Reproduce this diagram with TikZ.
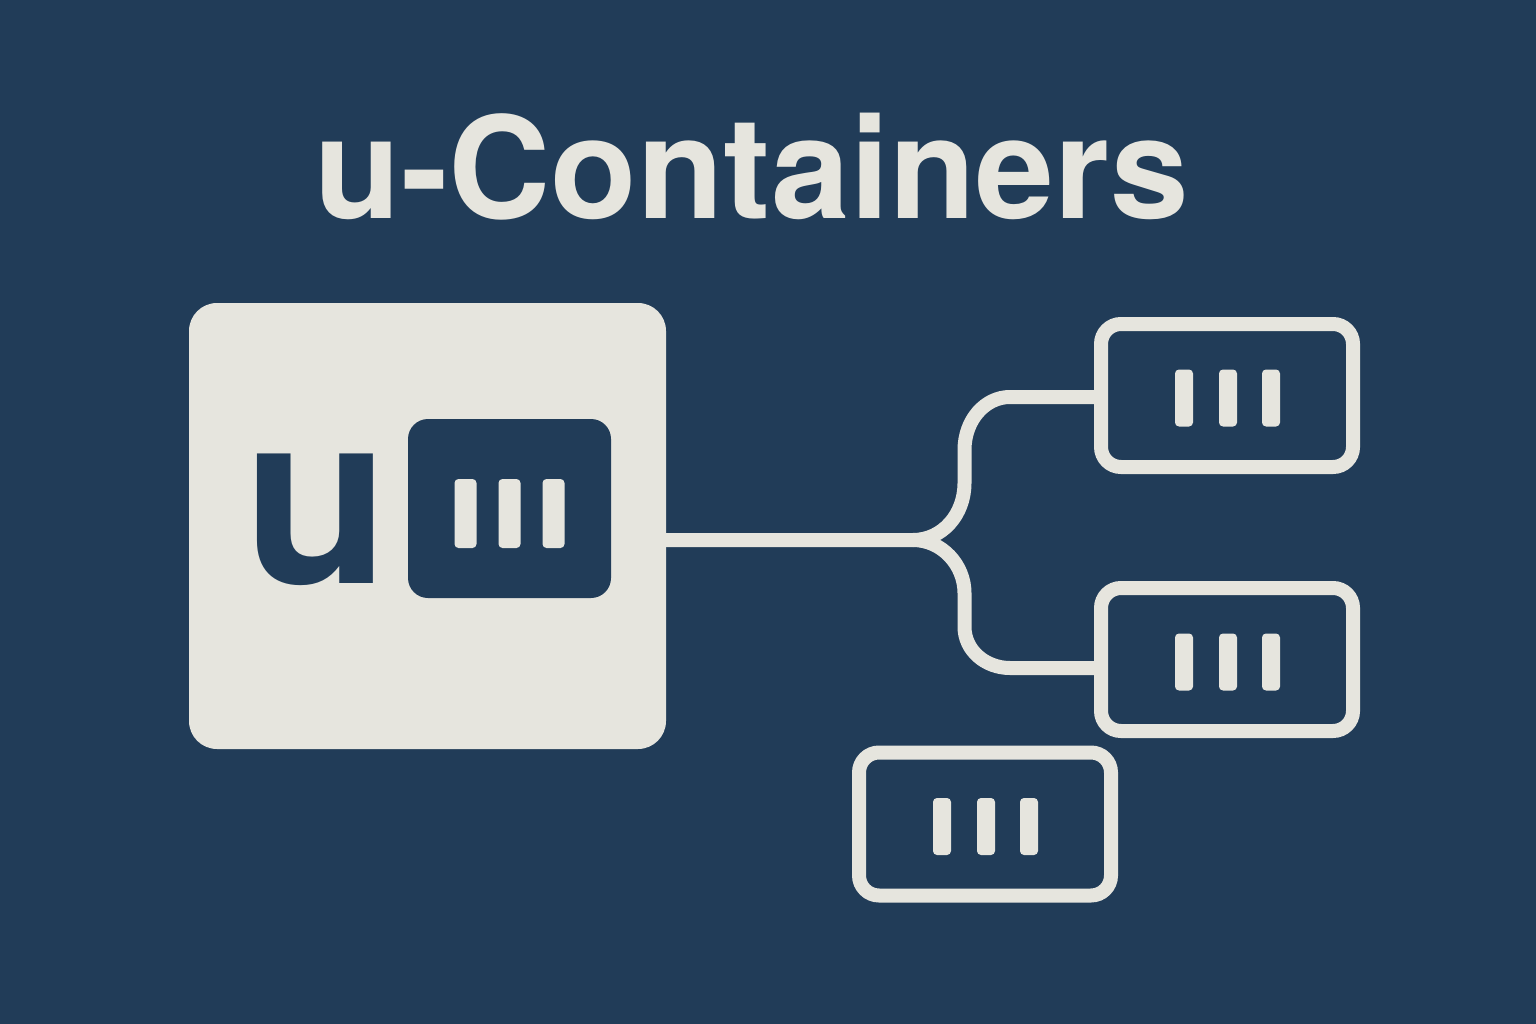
\documentclass[tikz,border=0pt]{standalone}
\usepackage{fontspec}
\setmainfont{TeX Gyre Heros}
\usepackage{xcolor}
\usetikzlibrary{calc}
\definecolor{navy}{HTML}{213C58}
\definecolor{cream}{HTML}{E6E5DE}
\tikzset{
  podbox/.style={draw=cream,line width=14pt,rounded corners=20pt,minimum width=252pt,minimum height=143pt,inner sep=0pt},
  podbar/.style={fill=cream,rounded corners=4pt,minimum width=18pt,minimum height=57pt,inner sep=0pt},
  hubbar/.style={fill=cream,rounded corners=4pt,minimum width=22pt,minimum height=69pt,inner sep=0pt},
  wire/.style={draw=cream,line width=14pt}
}
\begin{document}
\begin{tikzpicture}[x=1pt,y=-1pt]
\useasboundingbox (0,0) rectangle (1536,1024);
\fill[navy] (0,0) rectangle (1536,1024);
\node[text=cream,font=\fontsize{141.5}{142}\selectfont\bfseries,inner sep=0pt] (title) at (752,167) {u-Containers};
\node[fill=cream,rounded corners=28pt,minimum width=477pt,minimum height=446pt,inner sep=0pt] (hub) at (427.5,526) {};
\node[text=navy,font=\fontsize{240}{240}\selectfont\bfseries,anchor=base,inner sep=0pt] (hubu) at (317,583) {u};
\node[fill=navy,rounded corners=20pt,minimum width=203pt,minimum height=179pt,inner sep=0pt] (slot) at (509.5,508.5) {};
\foreach \i/\dx in {1/-44,2/0,3/44}{\node[hubbar] (slotbar\i) at ($(slot)+(\dx,5)$) {};}
\foreach \nm/\cx/\cy in {podtop/1227/395.5,podmid/1227/659.5,podlow/985/824}{
  \node[podbox] (\nm) at (\cx,\cy) {};
  \foreach \i/\dx in {1/-43,2/1,3/44}{\node[podbar] (\nm bar\i) at ($(\nm)+(\dx,2.5)$) {};}
}
\coordinate (split) at (913,540);
\coordinate (upper) at (964.5,397);
\coordinate (lower) at (964.5,668);
\draw[wire] (hub.east |- split) -- (split) .. controls (942,540) and (964.5,515) .. (964.5,483) -- (upper |- 0,450) .. controls (964.5,420) and (985,397) .. (1010,397) -- (podtop.west |- upper);
\draw[wire] (split) .. controls (942,540) and (964.5,565) .. (964.5,593) -- (lower |- 0,627) .. controls (964.5,650) and (985,668) .. (1010,668) -- (podmid.west |- lower);
\end{tikzpicture}
\end{document}
